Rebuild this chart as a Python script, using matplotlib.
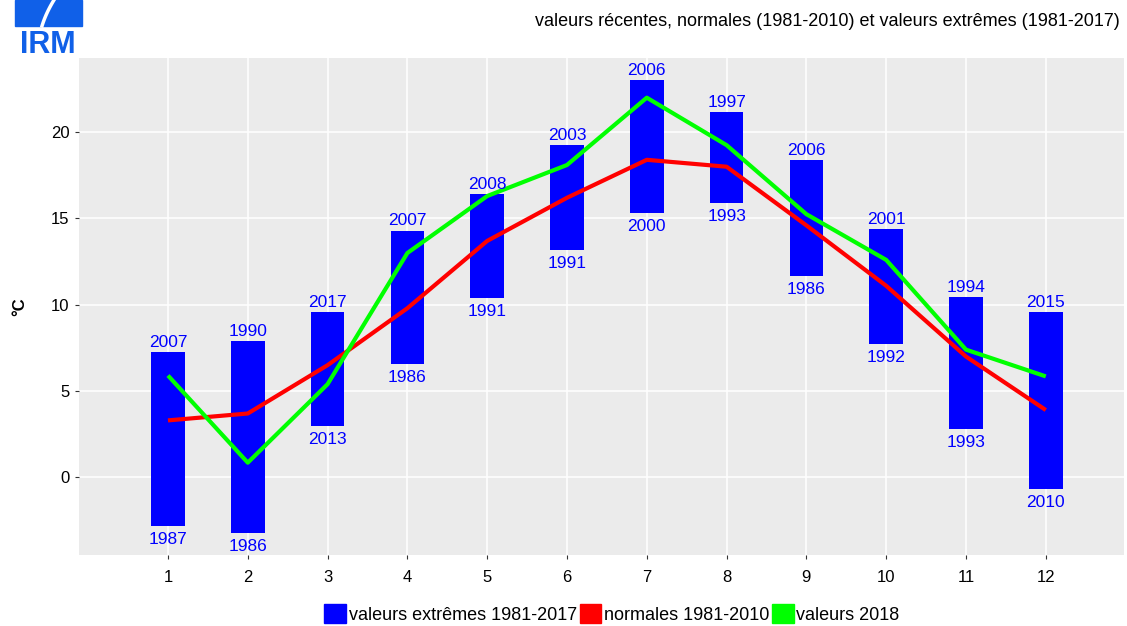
import numpy as np
import matplotlib.pyplot as plt
from matplotlib.patches import Patch, Rectangle

plt.rcParams['font.family'] = ['Liberation Sans', 'DejaVu Sans']

mois = [1, 2, 3, 4, 5, 6, 7, 8, 9, 10, 11, 12]
ext_max = [7.25, 7.9, 9.6, 14.3, 16.4, 19.25, 23.0, 21.15, 18.4, 14.4, 10.45, 9.6]
ext_min = [-2.8, -3.2, 2.95, 6.55, 10.4, 13.15, 15.3, 15.9, 11.65, 7.75, 2.8, -0.7]
annee_max = ["2007", "1990", "2017", "2007", "2008", "2003", "2006", "1997", "2006", "2001", "1994", "2015"]
annee_min = ["1987", "1986", "2013", "1986", "1991", "1991", "2000", "1993", "1986", "1992", "1993", "2010"]
normales = [3.3, 3.7, 6.5, 9.8, 13.7, 16.2, 18.4, 18.0, 14.6, 11.1, 7.0, 3.9]
valeurs_2018 = [5.9, 0.85, 5.4, 13.0, 16.3, 18.1, 22.0, 19.25, 15.25, 12.6, 7.4, 5.85]

fig = plt.figure(figsize=(11.27, 6.26), dpi=100)
ax = fig.add_axes([79 / 1127, 1 - 555 / 626, (1124 - 79) / 1127, (555 - 58) / 626])
ax.set_facecolor('#ebebeb')

bas = np.array(ext_min)
haut = np.array(ext_max)
ax.bar(mois, haut - bas, bottom=bas, width=0.42, color='#0000ff', zorder=3)
ax.plot(mois, normales, color='#ff0000', lw=3, zorder=4, solid_capstyle='butt')
ax.plot(mois, valeurs_2018, color='#00ff00', lw=3, zorder=5, solid_capstyle='butt')

for m, h, b, am, an in zip(mois, ext_max, ext_min, annee_max, annee_min):
    ax.text(m, h + 0.12, am, ha='center', va='bottom', color='#0000ff', fontsize=12.5, zorder=6)
    ax.text(m, b - 0.35, an, ha='center', va='top', color='#0000ff', fontsize=12.5, zorder=6)

ax.set_xlim(-0.115, 12.98)
ax.set_ylim(-4.5, 24.3)
ax.set_xticks(mois)
ax.set_yticks([0, 5, 10, 15, 20])
ax.grid(color='white', lw=1.1, zorder=0)
ax.set_axisbelow(True)
for s in ax.spines.values():
    s.set_visible(False)
ax.tick_params(axis='both', colors='#333333', length=3, labelsize=12, labelcolor='black', pad=4)
ax.tick_params(axis='x', pad=8)
ax.set_ylabel('°C', fontsize=12, fontweight='bold')
ax.yaxis.set_label_coords(-52 / 1045, 0.5)

fig.text(1120 / 1127, 1 - 22 / 626, 'valeurs récentes, normales (1981-2010) et valeurs extrêmes (1981-2017)',
         ha='right', va='center', fontsize=13)

# logo IRM
bleu = '#1060e8'
fig.patches.append(Rectangle((15 / 1127, 1 - 26 / 626), 67 / 1127, 26 / 626,
                             transform=fig.transFigure, color=bleu))
t = np.linspace(0, 1, 30)
cx = (54 - 16 * t + 4 * t ** 2) / 1127
cy = 1 - (26 * t) / 626
fig.lines.append(plt.Line2D(cx, cy, transform=fig.transFigure, color='white', lw=2.5))
fig.text(48 / 1127, 1 - 30 / 626, 'IRM', ha='center', va='top', fontsize=22,
         color=bleu, fontweight='bold')

poignees = [Patch(color='#0000ff', label='valeurs extrêmes 1981-2017'),
            Patch(color='#ff0000', label='normales 1981-2010'),
            Patch(color='#00ff00', label='valeurs 2018')]
fig.legend(handles=poignees, loc='center', bbox_to_anchor=(612 / 1127, 1 - 614 / 626), ncol=3,
           frameon=False, fontsize=13, handlelength=1.2, handleheight=1.2, handletextpad=0.15,
           columnspacing=0.15)

fig.savefig('out.png', dpi=100)
